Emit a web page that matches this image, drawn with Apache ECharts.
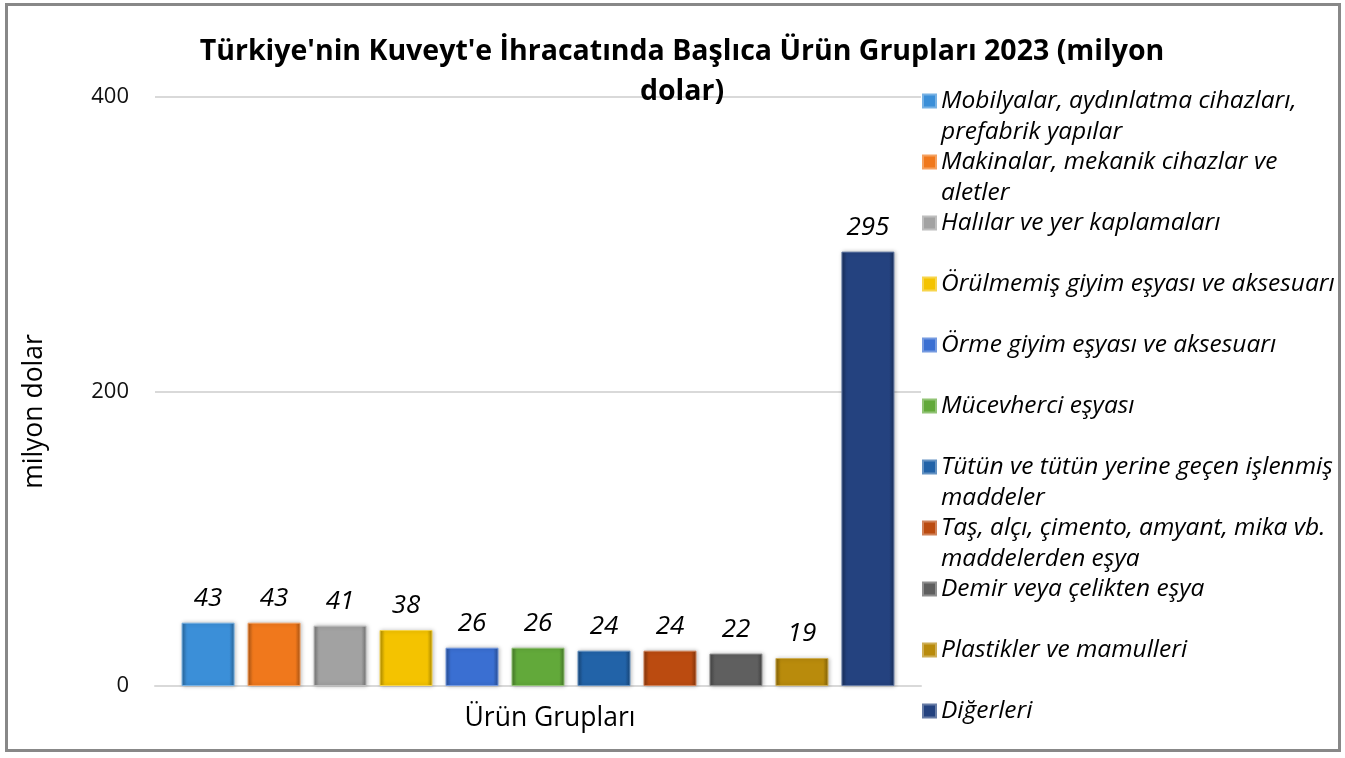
<!DOCTYPE html>
<html>
<head>
<meta charset="utf-8">
<script src="https://cdn.jsdelivr.net/npm/echarts@6/dist/echarts.min.js"></script>
<style>
  html, body { margin: 0; padding: 0; background: #fff; }
  #main { width: 1345px; height: 758px; }
</style>
</head>
<body>
<div id="main"></div>
<script>
// ürün grupları (legend satırları, \n = satır kırılması)
var groups = [
  'Mobilyalar, aydınlatma cihazları,\nprefabrik yapılar',
  'Makinalar, mekanik cihazlar ve\naletler',
  'Halılar ve yer kaplamaları',
  'Örülmemiş giyim eşyası ve aksesuarı',
  'Örme giyim eşyası ve aksesuarı',
  'Mücevherci eşyası',
  'Tütün ve tütün yerine geçen işlenmiş\nmaddeler',
  'Taş, alçı, çimento, amyant, mika vb.\nmaddelerden eşya',
  'Demir veya çelikten eşya',
  'Plastikler ve mamulleri',
  'Diğerleri'
];
var values = [43, 43, 41, 38, 26, 26, 24, 24, 22, 19, 295];
var yTicks = [0, 200, 400];

var colors = ['#3b8fd8', '#f0781c', '#a2a2a2', '#f4c300', '#3a6fd2', '#62a93a',
              '#2263a8', '#bb4b10', '#5f5f5f', '#b98b0c', '#24427f'];

var FONT = 'Open Sans';
var LH = 31;

function shade(hex, k) {
  var n = parseInt(hex.slice(1), 16);
  var r = (n >> 16) & 255, g = (n >> 8) & 255, b = n & 255;
  function f(c) { return Math.max(0, Math.min(255, Math.round(k > 0 ? c + (255 - c) * k : c * (1 + k)))); }
  return 'rgb(' + f(r) + ',' + f(g) + ',' + f(b) + ')';
}

var series = groups.map(function (name, i) {
  return {
    name: name,
    type: 'bar',
    barWidth: 53,
    barGap: '24.5%',
    data: [values[i]],
    itemStyle: {
      color: new echarts.graphic.LinearGradient(0, 0, 1, 0, [
        { offset: 0, color: shade(colors[i], -0.3) },
        { offset: 0.1, color: colors[i] },
        { offset: 0.9, color: colors[i] },
        { offset: 1, color: shade(colors[i], -0.3) }
      ]),
      borderColor: shade(colors[i], 0.3),
      borderWidth: 1,
      shadowColor: 'rgba(0,0,0,0.25)',
      shadowBlur: 4,
      shadowOffsetX: 1
    },
    label: {
      show: true,
      position: 'top',
      distance: 11,
      fontFamily: FONT,
      fontStyle: 'italic',
      fontSize: 26,
      color: '#000'
    }
  };
});

// iki satırlı kalemlerde işaret ilk satırın hizasında dursun diye başa boş satır eklenir
var legends = groups.map(function (name, i) {
  var twoLines = name.indexOf('\n') >= 0;
  return {
    orient: 'vertical',
    left: 922,
    top: 101 + i * 61 - (twoLines ? 1.5 : 0.5) * LH,
    padding: 0,
    itemWidth: 13,
    itemHeight: 13,
    icon: 'rect',
    data: [name],
    selectedMode: false,
    formatter: function (n) { return n.indexOf('\n') >= 0 ? ' \n' + n : n; },
    textStyle: {
      fontFamily: FONT,
      fontStyle: 'italic',
      fontSize: 24.5,
      color: '#000',
      lineHeight: LH
    }
  };
});

var chart = echarts.init(document.getElementById('main'));
chart.setOption({
  animation: false,
  color: colors,
  title: {
    text: "Türkiye'nin Kuveyt'e İhracatında Başlıca Ürün Grupları 2023 (milyon\ndolar)",
    left: 677,
    textAlign: 'center',
    top: 27,
    textStyle: { fontFamily: FONT, fontWeight: 'bold', fontSize: 28.5, lineHeight: 40, color: '#000' }
  },
  legend: legends,
  grid: { left: 155, right: 424, top: 97, bottom: 72, containLabel: false },
  xAxis: {
    type: 'category',
    data: [''],
    name: 'Ürün Grupları',
    nameLocation: 'middle',
    nameGap: 19,
    nameTextStyle: { fontFamily: FONT, fontSize: 26.5, color: '#000', padding: [0, 0, 0, 24], verticalAlign: 'top' },
    axisLine: { lineStyle: { color: '#d9d9d9', width: 2 } },
    axisTick: { show: false },
    axisLabel: { show: false }
  },
  yAxis: {
    type: 'value',
    min: yTicks[0],
    max: yTicks[yTicks.length - 1],
    interval: yTicks[1] - yTicks[0],
    name: 'milyon dolar',
    nameLocation: 'middle',
    nameGap: 107,
    nameTextStyle: { fontFamily: FONT, fontSize: 26.5, color: '#000', padding: [0, 40, 0, 0] },
    axisLine: { show: false },
    axisTick: { show: false },
    axisLabel: { fontFamily: FONT, fontSize: 22, color: '#111', margin: 26 },
    splitLine: { lineStyle: { color: '#d9d9d9', width: 2 } }
  },
  graphic: [{
    type: 'rect',
    shape: { x: 6.5, y: 4.5, width: 1333, height: 746 },
    style: { fill: 'none', stroke: '#888', lineWidth: 3 },
    silent: true
  }],
  series: series
});
</script>
</body>
</html>
